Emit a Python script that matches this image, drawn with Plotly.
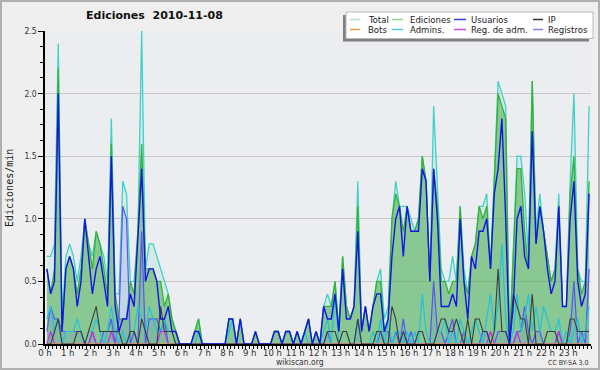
import plotly.graph_objects as go

# ---- data: 144 ten-minute slots (values = edits per minute) ----
slot_minutes = list(range(5, 1440, 10))

total = [0.7,0.7,0.8,2.4,0.2,0.7, 0.8,0.7,0.5,0.7,1.0,0.8, 0.7,0.9,0.8,0.7,0.5,1.8,
         0.4,0.4,1.3,1.2,0.5,0.5, 0.9,2.5,0.6,0.8,0.8,0.7, 0.6,0.5,0.4,0.2,0.1,0,
         0,0,0,0.1,0.2,0, 0,0,0,0,0,0, 0.2,0.2,0,0.2,0,0,
         0,0.1,0,0,0,0, 0.1,0.1,0,0.1,0.1,0, 0.1,0,0.1,0.2,0,0.1,
         0,0.3,0.4,0.3,0.5,0.1, 0.7,0.3,0.2,0.3,1.3,0.1, 0.3,0.1,0.3,0.5,0.6,0.2,
         0.3,1.0,1.3,1.1,1.1,1.1, 1.0,0.9,1.0,1.5,1.3,0.5, 1.9,1.2,0.6,0.5,0.5,0.7,
         0.5,1.1,0.6,0.4,0.7,0.8, 1.1,1.1,1.2,0.6,1.3,2.1, 2.0,1.9,0,0.7,1.5,1.5,
         1.2,0.7,2.1,0.9,1.2,0.9, 0.7,0.5,0.6,1.2,0.3,0.3, 1.3,2.0,0.6,0.5,0.5,1.9]

ediciones = [0.6,0.4,0.6,2.2,0.1,0.6, 0.7,0.6,0.4,0.6,1.0,0.8, 0.6,0.9,0.8,0.6,0.4,1.6,
             0.4,0.2,0.2,0.2,0.5,0.4, 0.9,1.6,0.6,0.6,0.6,0.5, 0.5,0.3,0.4,0.2,0.1,0,
             0,0,0,0.1,0.2,0, 0,0,0,0,0,0, 0.2,0.2,0,0.2,0,0,
             0,0.1,0,0,0,0, 0.1,0.1,0,0.1,0.1,0, 0.1,0,0.1,0.2,0,0.1,
             0,0.3,0.3,0.3,0.5,0.1, 0.7,0.3,0.2,0.3,1.1,0.1, 0.3,0.1,0.3,0.5,0.5,0.1,
             0.2,1.0,1.2,1.1,0.9,1.1, 0.9,0.9,1.0,1.5,1.3,0.5, 1.4,1.1,0.5,0.5,0.4,0.5,
             0.5,1.1,0.5,0.4,0.7,0.8, 1.1,1.0,1.1,0.6,1.3,2.0, 1.9,1.8,0,0.7,1.4,1.4,
             0.9,0.6,2.1,0.8,1.1,0.9, 0.7,0.5,0.6,1.1,0.3,0.3, 1.2,1.5,0.6,0.4,0.5,1.3]

usuarios = [0.6,0.4,0.5,2.0,0.1,0.6, 0.7,0.6,0.3,0.5,1.0,0.7, 0.4,0.6,0.7,0.5,0.3,1.5,
            0.3,0.1,0.2,0.2,0.4,0.3, 0.9,1.4,0.5,0.6,0.6,0.5, 0.2,0.2,0.3,0.1,0.1,0,
            0,0,0,0.1,0.1,0, 0,0,0,0,0,0, 0.2,0.2,0,0.2,0,0,
            0,0.1,0,0,0,0, 0.1,0.1,0,0.1,0.1,0, 0.1,0,0.1,0.2,0,0.1,
            0,0.3,0.2,0.2,0.4,0.1, 0.6,0.2,0.2,0.3,0.9,0.1, 0.3,0.1,0.3,0.4,0.4,0.1,
            0.2,0.7,1.0,1.1,0.7,1.1, 0.9,0.9,0.9,1.4,1.3,0.5, 1.4,1.0,0.3,0.3,0.3,0.4,
            0.3,1.0,0.5,0.2,0.7,0.6, 0.9,0.9,1.0,0.6,1.2,1.4, 1.8,1.0,0,0.3,1.0,1.1,
            0.7,0.6,1.7,0.8,1.1,0.9, 0.6,0.4,0.5,1.1,0.3,0.3, 1.0,1.3,0.5,0.3,0.4,1.2]

ip = [0,0,0.1,0.2,0,0, 0,0,0.1,0.1,0,0.1, 0.2,0.3,0.1,0.1,0.1,0.1,
      0.1,0.1,0,0,0.1,0.1, 0,0.2,0.1,0,0,0, 0.3,0.1,0.1,0.1,0,0,
      0,0,0,0,0,0, 0,0,0,0,0,0, 0,0,0,0,0,0,
      0,0,0,0,0,0, 0,0,0,0,0,0, 0,0,0,0,0,0,
      0,0,0.1,0.1,0.1,0, 0.1,0.1,0,0,0.2,0, 0,0,0,0.1,0.1,0,
      0,0.3,0.2,0,0.1,0, 0,0,0.1,0.1,0,0, 0,0.1,0.2,0.2,0.1,0.1,
      0.2,0.1,0,0.2,0,0.2, 0.2,0.1,0.1,0,0.1,0.6, 0.1,0.1,0,0.4,0.3,0.2,
      0.2,0,0.4,0,0,0, 0.1,0.1,0.1,0,0,0, 0.2,0.2,0.1,0.1,0.1,0.1]

bots = [0,0,0,0,0,0, 0,0,0,0,0,0, 0,0,0,0,0,0, 0,0,0,0,0,0, 0,0,0,0,0,0, 0,0,0,0,0,0,
        0,0,0,0,0,0, 0,0,0,0,0,0, 0,0,0,0,0,0, 0,0,0,0,0,0, 0,0,0,0,0,0, 0,0,0,0,0,0,
        0,0,0,0,0,0, 0,0,0,0,0,0, 0,0,0,0,0,0, 0,0,0,0,0,0, 0,0,0,0,0,0, 0,0,0,0,0,0,
        0,0,0,0,0,0, 0,0,0,0,0,0, 0,0,0,0,0,0, 0,0,0,0,0,0, 0,0,0,0,0,0, 0,0,0,0,0,0]

admins = [0.2,0.3,0.1,0.2,0,0.1, 0.1,0.1,0.2,0.1,0,0.1, 0.1,0.2,0.1,0,0.1,0.3,
          0.1,0,0.1,0,0.1,0.1, 0.3,0.2,0.1,0.3,0.2,0.1, 0.1,0.2,0.1,0.1,0,0,
          0,0,0,0,0.1,0, 0,0,0,0,0,0, 0.1,0.2,0,0,0,0,
          0,0,0,0,0,0, 0,0,0,0,0,0, 0,0,0.1,0,0,0,
          0,0.1,0.2,0,0.4,0, 0.1,0.1,0,0,0.2,0, 0,0,0.1,0,0.2,0,
          0.2,0,0.1,0.1,0,0.1, 0,0.1,0,0.4,0.1,0, 0,0.1,0.1,0.2,0,0.1,
          0,0.2,0.1,0,0.1,0.2, 0.1,0,0.2,0.4,0.1,0.3, 0.8,0.2,0,0.1,0.4,0.1,
          0.2,0.4,0.1,0.3,0.1,0.3, 0.2,0.1,0.1,0.2,0,0.1, 0,0.1,0.2,0,0.1,0.3]

reg_adm = [0,0.1,0,0,0,0, 0,0,0,0,0,0, 0.1,0,0,0,0,0.1, 0,0,0,0,0,0, 0,0,0,0,0,0, 0.1,0.1,0,0,0,0,
           0,0,0,0,0,0, 0,0,0,0,0,0, 0,0,0,0,0,0, 0,0,0,0,0,0, 0,0,0,0,0,0, 0,0,0,0,0,0,
           0,0,0,0,0,0, 0,0,0,0,0,0, 0,0,0,0,0,0, 0,0,0,0,0,0, 0,0,0,0,0,0, 0,0,0,0,0,0,
           0,0,0,0,0,0, 0,0,0,0.1,0,0, 0,0,0,0,0.1,0, 0,0,0,0,0,0, 0,0,0,0.1,0,0, 0,0,0,0,0,0]

registros = [0.1,0.3,0.2,0.2,0.1,0.1, 0.1,0.1,0.1,0.1,0,0, 0.1,0,0,0.1,0.1,0.2,
             0,0.2,1.1,1.0,0,0.1, 0,0.9,0,0.2,0.2,0.2, 0.1,0.2,0,0,0,0,
             0,0,0,0,0,0, 0,0,0,0,0,0, 0,0,0,0,0,0,
             0,0,0,0,0,0, 0,0,0,0,0,0, 0,0,0,0,0,0,
             0,0,0.1,0,0,0, 0,0,0,0,0.2,0, 0,0,0,0,0.1,0.1,
             0.1,0,0.1,0,0.2,0, 0.1,0,0,0,0,0, 0.5,0.1,0.1,0,0.1,0.2,
             0,0,0.1,0,0,0, 0,0.1,0.1,0,0,0.1, 0.1,0.1,0,0,0.1,0.1,
             0.3,0.1,0,0.1,0.1,0, 0,0,0,0.1,0,0, 0.1,0.5,0,0.1,0,0.6]

hour_labels = ["%d h" % h for h in range(24)]
y_ticks = [0, 0.5, 1.0, 1.5, 2.0, 2.5]
y_tick_labels = ["0.0", "0.5", "1.0", "1.5", "2.0", "2.5"]

# ---- geometry helpers (pixel -> paper) ----
W, H = 600, 370
L, R, T, B = 45, 591, 31, 344
def px(x):
    return (x - L) / (R - L)
def py(y):
    return (B - y) / (B - T)

xh = [m / 60 for m in slot_minutes]
FONT = "DejaVu Sans"
NARROW = "DejaVu Sans Condensed, DejaVu Sans"

fig = go.Figure()
fig.add_trace(go.Scatter(x=xh, y=total, mode="lines", fill="tozeroy",
                         fillcolor="rgba(150,220,215,0.25)",
                         line=dict(color="#3fd2c6", width=1.3), name="Total"))
fig.add_trace(go.Scatter(x=xh, y=ediciones, mode="lines", fill="tozeroy",
                         fillcolor="rgba(60,165,60,0.5)",
                         line=dict(color="#36b236", width=1.3), name="Ediciones"))
fig.add_trace(go.Scatter(x=xh, y=registros, mode="lines", fill="tozeroy",
                         fillcolor="rgba(90,110,235,0.16)",
                         line=dict(color="#5656f0", width=1.2), name="Registros"))
fig.add_trace(go.Scatter(x=xh, y=admins, mode="lines",
                         line=dict(color="#22c2dc", width=1.2), name="Admins."))
fig.add_trace(go.Scatter(x=xh, y=reg_adm, mode="lines",
                         line=dict(color="#c030e0", width=1.2), name="Reg. de adm."))
fig.add_trace(go.Scatter(x=xh, y=bots, mode="lines",
                         line=dict(color="#f0a030", width=1.2), name="Bots"))
fig.add_trace(go.Scatter(x=xh, y=ip, mode="lines",
                         line=dict(color="#3c3c3c", width=1.1), name="IP"))
fig.add_trace(go.Scatter(x=xh, y=usuarios, mode="lines",
                         line=dict(color="#1414e6", width=1.4), name="Usuarios"))

fig.update_layout(
    width=W, height=H,
    margin=dict(l=L, r=W - R, t=T, b=H - B, pad=0),
    paper_bgcolor="#efefef", plot_bgcolor="#ecedf0",
    showlegend=False,
    font=dict(family=FONT, size=9, color="#333333"),
)
fig.update_xaxes(range=[0, 24], tickmode="array", tickvals=list(range(24)), ticktext=hour_labels,
                 tickangle=0, automargin=False, ticklabelstandoff=-4,
                 ticks="outside", ticklen=3, tickwidth=1, tickcolor="#000",
                 showline=True, linecolor="#000", linewidth=1.5, showgrid=False, zeroline=False,
                 minor=dict(tick0=0, dtick=1 / 6, ticks="outside", ticklen=3, tickcolor="#000", showgrid=False),
                 tickfont=dict(size=9.5, family=NARROW, color="#333"), fixedrange=True)
fig.update_yaxes(range=[0, 2.5], tickmode="array", tickvals=y_ticks, ticktext=y_tick_labels,
                 automargin=False,
                 ticks="outside", ticklen=5, tickcolor="#000",
                 showline=True, linecolor="#000", linewidth=1.5,
                 showgrid=True, gridcolor="#c9c9c9", gridwidth=1, zeroline=False,
                 minor=dict(tick0=0, dtick=0.125, ticks="outside", ticklen=3, tickcolor="#000", showgrid=False),
                 tickfont=dict(size=8.5, family=NARROW, color="#333"), fixedrange=True)

shapes = []
ann = []
# outer frame
shapes.append(dict(type="rect", xref="paper", yref="paper", x0=px(1), x1=px(599), y0=py(369), y1=py(1),
                   line=dict(color="#b0b0b0", width=2), fillcolor="rgba(0,0,0,0)", layer="above"))
# legend box with shadow
shapes.append(dict(type="rect", xref="paper", yref="paper", x0=px(343), x1=px(589), y0=py(41.5), y1=py(15),
                   line=dict(width=0), fillcolor="#808080", layer="above"))
shapes.append(dict(type="rect", xref="paper", yref="paper", x0=px(346), x1=px(593), y0=py(38.5), y1=py(12),
                   line=dict(color="#b8b8b8", width=1), fillcolor="#ffffff", layer="above"))

legend_items = [
    ("Total", "#a8e6e0", 350, 360, 366, 19.5),
    ("Ediciones", "#8ed68e", 392, 403, 408, 19.5),
    ("Usuarios", "#3a3ae2", 454, 466, 469, 19.5),
    ("IP", "#333333", 533, 543, 546, 19.5),
    ("Bots", "#f0a040", 350, 360, 366, 29.5),
    ("Admins.", "#48cce0", 392, 403, 408, 29.5),
    ("Reg. de adm.", "#d048e0", 454, 466, 469, 29.5),
    ("Registros", "#8080f0", 533, 543, 546, 29.5),
]
for name, col, sx0, sx1, tx, yy in legend_items:
    shapes.append(dict(type="line", xref="paper", yref="paper", x0=px(sx0), x1=px(sx1), y0=py(yy), y1=py(yy),
                       line=dict(color=col, width=1.5), layer="above"))
    ann.append(dict(text=name, xref="paper", yref="paper", x=px(tx), y=py(yy), xanchor="left", yanchor="middle",
                    showarrow=False, font=dict(family=NARROW, size=9.5, color="#222")))

# title
ann.append(dict(text="<b>Ediciones\u00a0 2010-11-08</b>", xref="paper", yref="paper", x=px(154), y=py(16),
                xanchor="center", yanchor="middle", showarrow=False,
                font=dict(family=FONT, size=11, color="#111")))
# y axis title
ann.append(dict(text="Ediciones/min", xref="paper", yref="paper", x=px(9), y=py(188), textangle=-90,
                xanchor="center", yanchor="middle", showarrow=False,
                font=dict(family="DejaVu Sans Mono", size=10, color="#222")))
# footer
ann.append(dict(text="wikiscan.org", xref="paper", yref="paper", x=px(300), y=py(362),
                xanchor="center", yanchor="middle", showarrow=False,
                font=dict(family=NARROW, size=8.5, color="#333")))
ann.append(dict(text="CC BY-SA 3.0", xref="paper", yref="paper", x=px(590), y=py(362.5),
                xanchor="right", yanchor="middle", showarrow=False,
                font=dict(family=NARROW, size=7, color="#333")))

fig.update_layout(shapes=shapes, annotations=ann)
fig.write_html("out.html", config={"displayModeBar": False},
               post_script="document.body.style.margin='0';document.body.style.overflow='hidden';")
